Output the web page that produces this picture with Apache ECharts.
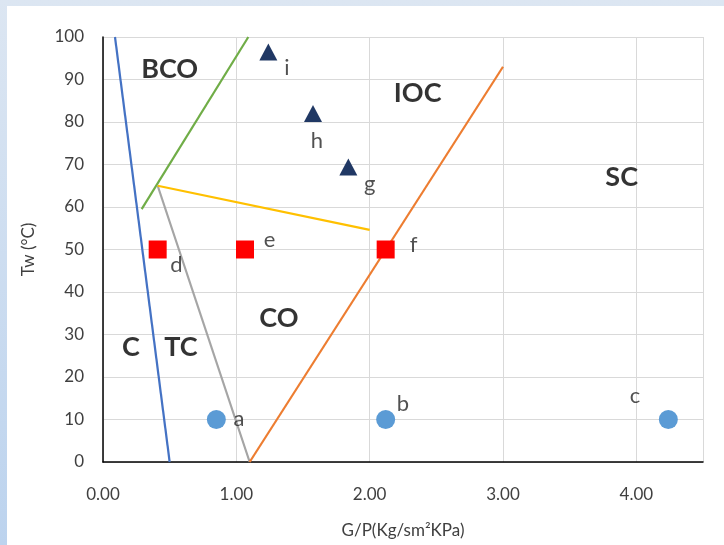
<!DOCTYPE html>
<html><head><meta charset="utf-8">
<script src="https://cdn.jsdelivr.net/npm/echarts@6/dist/echarts.min.js"></script>
<style>
html,body{margin:0;padding:0;background:#dbe5f1;}
#wrap{position:absolute;left:0;top:0;width:724px;height:545px;background:linear-gradient(to bottom,#dce6f2,#bcd3ee);}
#chart{position:absolute;left:7px;top:6px;width:717px;height:539px;background:#fff;}
</style></head>
<body><div id="wrap"><div id="chart"></div></div>
<script>
// Boundary lines [x, y]
const blueLine = [[0.09, 100], [0.50, 0]];
const greenLine = [[0.29, 59.5], [1.09, 100]];
const grayLine = [[0.41, 65], [1.10, 0]];
const yellowLine = [[0.41, 65], [2.00, 54.6]];
const orangeLine = [[1.10, 0], [3.00, 93]];
// Points
const circlePts = [[0.85, 10], [2.12, 10], [4.24, 10]];
const squarePts = [[0.41, 50], [1.065, 50], [2.12, 50]];
const trianglePts = [[1.24, 96.5], [1.575, 82], [1.84, 69.4]];
// Point letters [x, y, text]
const pointLabels = [
  [1.02, 10.2, 'a'], [2.25, 13.6, 'b'], [3.99, 15.5, 'c'],
  [0.55, 46.4, 'd'], [1.25, 52.3, 'e'], [2.33, 51.0, 'f'],
  [2.00, 65.4, 'g'], [1.605, 75.5, 'h'], [1.38, 92.8, 'i']
];
// Region labels [x, y, text]
const regionLabels = [
  [0.50, 92.3, 'BCO'], [2.36, 86.8, 'IOC'], [3.89, 67.0, 'SC'],
  [1.32, 33.9, 'CO'], [0.21, 27.0, 'C'], [0.585, 27.0, 'TC']
];
const xTicks = [0, 1, 2, 3, 4];
const yTicks = [0, 10, 20, 30, 40, 50, 60, 70, 80, 90, 100];

const font = 'Lato, "Open Sans", sans-serif';
const chart = echarts.init(document.getElementById('chart'));
function lineSeries(data, color) {
  return { type: 'line', data: data, symbol: 'none', lineStyle: { color: color, width: 2.2 }, z: 2, silent: true };
}
function textSeries(data, size, weight, color) {
  return {
    type: 'scatter', data: data, symbolSize: 0, z: 5, silent: true,
    label: { show: true, position: 'inside', formatter: p => p.data[2],
      fontSize: size, fontWeight: weight, color: color, fontFamily: font }
  };
}
chart.setOption({
  animation: false,
  grid: { left: 96, right: 21, top: 31, bottom: 83, containLabel: false, outerBoundsMode: 'none' },
  xAxis: {
    type: 'value', min: 0, max: 4.5, interval: 1,
    name: 'G/P(Kg/sm²KPa)', nameLocation: 'middle', nameGap: 60,
    nameTextStyle: { fontSize: 17, color: '#404040', fontFamily: font },
    axisLine: { show: true, lineStyle: { color: '#000', width: 1.5 } },
    axisTick: { show: false },
    axisLabel: { margin: 24, fontSize: 17, color: '#404040', fontFamily: font,
      formatter: v => xTicks.includes(v) ? v.toFixed(2) : '' },
    splitLine: { show: true, lineStyle: { color: '#d9d9d9', width: 1 } }
  },
  yAxis: {
    type: 'value', min: 0, max: 100, interval: 10,
    name: 'Tw (°C)', nameLocation: 'middle', nameGap: 66, nameRotate: 90,
    nameTextStyle: { fontSize: 17, color: '#404040', fontFamily: font },
    axisLine: { show: true, lineStyle: { color: '#000', width: 1.5 } },
    axisTick: { show: false },
    axisLabel: { margin: 19, fontSize: 17, color: '#404040', fontFamily: font,
      formatter: v => yTicks.includes(v) ? String(v) : '' },
    splitLine: { show: true, lineStyle: { color: '#d9d9d9', width: 1 } }
  },
  series: [
    lineSeries(blueLine, '#4472c4'),
    lineSeries(greenLine, '#70ad47'),
    lineSeries(grayLine, '#a5a5a5'),
    lineSeries(yellowLine, '#ffc000'),
    lineSeries(orangeLine, '#ed7d31'),
    { type: 'scatter', data: circlePts, symbol: 'circle', symbolSize: 19, itemStyle: { color: '#5b9bd5', opacity: 1 }, z: 3 },
    { type: 'scatter', data: squarePts, symbol: 'rect', symbolSize: 18, itemStyle: { color: '#ff0000', opacity: 1 }, z: 3 },
    { type: 'scatter', data: trianglePts, symbol: 'triangle', symbolSize: [18, 17], itemStyle: { color: '#203864', opacity: 1 }, z: 3 },
    textSeries(pointLabels, 22, 'normal', '#262626'),
    textSeries(regionLabels, 27, 'bold', '#000')
  ]
});
</script></body></html>
